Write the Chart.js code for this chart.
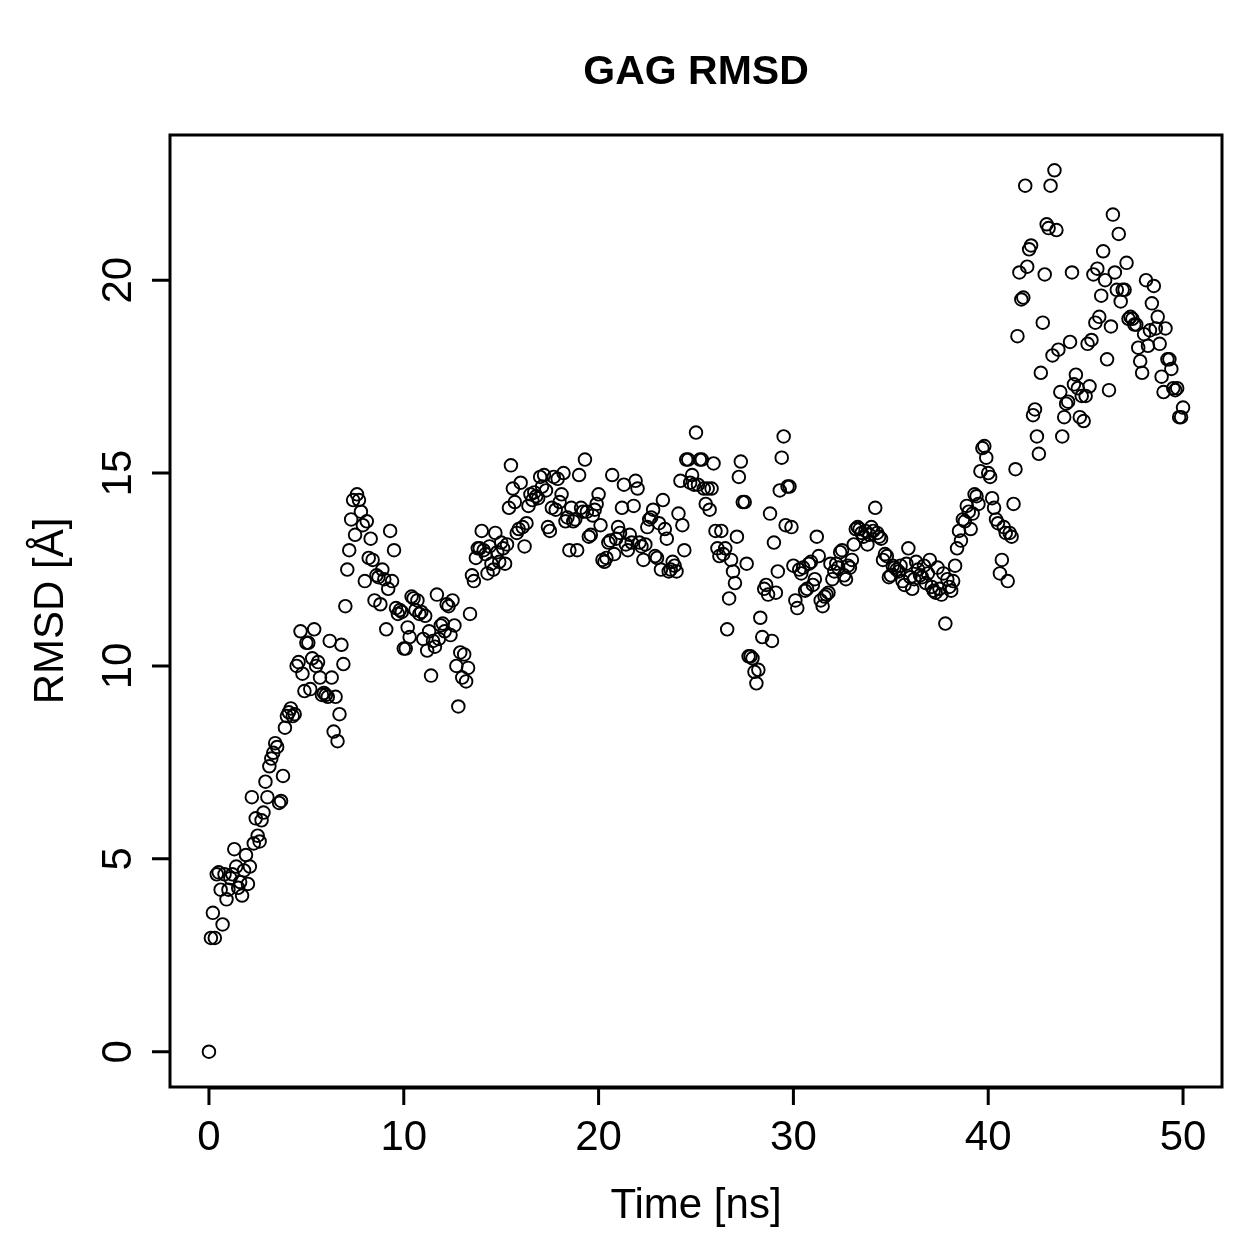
<!DOCTYPE html>
<html lang="en">
<head>
    <meta charset="UTF-8">
    <title>GAG RMSD</title>
    <script src="https://cdn.jsdelivr.net/npm/chart.js"></script>
    <style>
        body {
            margin: 0;
            background: #ffffff;
        }
        #chart {
            display: block;
        }
    </style>
</head>
<body>
    <canvas id="chart" width="1259" height="1259"></canvas>

    <script>
        const rmsd = [
            0.0, 2.95, 3.6, 2.95, 4.6, 4.65, 4.2, 3.3, 4.6, 3.95,          // 0-1 ns
            4.2, 4.5, 4.6, 5.25, 4.8, 4.25, 4.4, 4.05, 4.7, 5.1,           // 1-2
            4.35, 4.8, 6.6, 5.4, 6.05, 5.6, 5.45, 6.0, 6.2, 7.0,           // 2-3
            6.6, 7.4, 7.6, 7.75, 8.0, 7.9, 6.45, 6.5, 7.15, 8.4,           // 3-4
            8.7, 8.8, 8.9, 8.7, 8.75, 10.0, 10.1, 10.9, 9.8, 9.35,         // 4-5
            10.6, 10.6, 9.4, 10.2, 10.95, 10.0, 10.1, 9.7, 9.25, 9.3,      // 5-6
            9.25, 9.2, 10.65, 9.7, 8.3, 9.2, 8.05, 8.75, 10.55, 10.05,     // 6-7
            11.55, 12.5, 13.0, 13.8, 14.3, 13.4, 14.45, 14.3, 14.0, 13.65, // 7-8
            12.2, 13.75, 12.8, 13.3, 12.75, 11.7, 12.35, 12.3, 11.6, 12.5, // 8-9
            12.25, 10.95, 12.0, 13.5, 12.2, 13.0, 11.5, 11.35, 11.45, 11.4, // 9-10
            10.45, 10.45, 11.0, 10.75, 11.8, 11.75, 11.45, 11.7, 11.35, 11.4, // 10-11
            10.7, 11.3, 10.4, 10.9, 9.75, 10.65, 10.5, 11.85, 10.7, 11.05, // 11-12
            11.1, 10.9, 11.6, 11.55, 10.8, 11.7, 11.05, 10.0, 8.95, 10.35, // 12-13
            9.7, 10.3, 9.6, 9.95, 11.35, 12.35, 12.2, 12.8, 13.05, 13.05,  // 13-14
            13.5, 13.0, 12.9, 12.4, 13.1, 12.65, 12.5, 13.45, 12.95, 12.7, // 14-15
            13.2, 13.05, 12.65, 13.15, 14.1, 15.2, 14.6, 14.25, 13.45, 13.55, // 15-16
            14.75, 13.6, 13.1, 13.7, 14.15, 14.45, 14.3, 14.5, 14.4, 14.35, // 16-17
            14.9, 14.65, 14.95, 14.55, 13.6, 13.5, 14.1, 14.9, 14.05, 14.85, // 17-18
            14.25, 14.45, 15.0, 13.75, 13.85, 13.0, 14.1, 13.75, 13.8, 13.0, // 18-19
            14.95, 14.1, 14.0, 15.35, 14.0, 13.35, 13.4, 13.9, 14.05, 14.2, // 19-20
            14.45, 13.65, 12.75, 12.7, 12.8, 13.2, 13.25, 14.95, 12.9, 13.3, // 20-21
            13.6, 13.45, 14.1, 14.7, 13.15, 13.0, 13.4, 13.2, 14.15, 14.8, // 21-22
            14.6, 13.2, 13.1, 12.75, 13.15, 13.6, 13.8, 13.85, 14.05, 12.85, // 22-23
            12.8, 13.7, 12.5, 14.3, 13.55, 13.3, 12.45, 12.5, 12.7, 12.6,  // 23-24
            12.45, 13.95, 14.8, 13.65, 13.0, 15.35, 15.35, 14.75, 14.95, 14.7, // 24-25
            16.05, 14.7, 15.35, 15.35, 14.6, 14.2, 14.6, 14.05, 14.6, 15.25, // 25-26
            13.5, 13.05, 12.85, 13.5, 12.9, 13.05, 10.95, 11.75, 12.75, 12.45, // 26-27
            12.15, 13.35, 14.9, 15.3, 14.25, 14.25, 12.65, 10.25, 10.25, 10.2, // 27-28
            9.85, 9.55, 9.9, 11.25, 10.75, 12.0, 12.1, 11.85, 13.95, 10.65, // 28-29
            13.2, 11.9, 12.45, 14.55, 15.4, 15.95, 13.65, 14.65, 14.65, 13.6, // 29-30
            12.6, 11.7, 11.5, 12.5, 12.4, 12.55, 11.95, 12.0, 12.65, 12.7, // 30-31
            12.1, 12.25, 13.35, 12.85, 11.7, 11.55, 11.8, 11.85, 11.9, 12.65, // 31-32
            12.25, 12.45, 12.65, 12.55, 12.95, 13.0, 12.35, 12.25, 12.6, 12.55, // 32-33
            12.75, 13.15, 13.55, 13.6, 13.55, 13.45, 13.35, 13.5, 13.15, 13.4, // 33-34
            13.6, 13.5, 14.1, 13.45, 13.35, 13.3, 12.75, 12.9, 12.85, 12.3, // 34-35
            12.35, 12.6, 12.55, 12.5, 12.45, 12.6, 12.2, 12.1, 12.65, 13.05, // 35-36
            12.3, 12.0, 12.25, 12.7, 12.5, 12.35, 12.3, 12.6, 12.15, 12.4, // 36-37
            12.75, 12.05, 11.95, 11.9, 12.55, 12.0, 11.85, 12.4, 11.1, 12.25, // 37-38
            12.05, 11.95, 12.2, 12.6, 13.05, 13.5, 13.25, 13.8, 13.75, 14.15, // 38-39
            14.0, 13.55, 13.95, 14.45, 14.4, 14.2, 15.05, 15.65, 15.7, 15.4, // 39-40
            15.0, 14.9, 14.35, 14.1, 13.8, 13.7, 12.4, 12.75, 13.6, 13.45, // 40-41
            12.2, 13.45, 13.35, 14.2, 15.1, 18.55, 20.2, 19.5, 19.55, 22.45, // 41-42
            20.35, 20.8, 20.9, 16.5, 16.65, 15.95, 15.5, 17.6, 18.9, 20.15, // 42-43
            21.45, 21.35, 22.45, 18.05, 22.85, 21.3, 18.2, 17.1, 15.95, 16.45, // 43-44
            16.8, 16.85, 18.4, 20.2, 17.3, 17.55, 17.2, 16.45, 17.0, 16.35, // 44-45
            17.0, 18.35, 17.25, 18.45, 20.15, 18.9, 20.3, 19.05, 19.6, 20.75, // 45-46
            20.0, 17.95, 17.15, 18.8, 21.7, 20.2, 19.75, 21.2, 19.45, 19.75, // 46-47
            19.75, 20.45, 19.0, 19.05, 19.0, 18.85, 18.85, 18.25, 17.9, 17.6, // 47-48
            18.6, 20.0, 18.3, 18.7, 19.4, 19.85, 18.75, 19.05, 18.35, 17.5, // 48-49
            17.1, 18.75, 17.95, 17.95, 17.7, 17.2, 17.15, 17.2, 16.45, 16.45, // 49-50
            16.7
        ];
        const timeStep = 0.1; // ns between frames
        const xTicks = [0, 10, 20, 30, 40, 50];
        const yTicks = [0, 5, 10, 15, 20];

        const points = rmsd.map((v, i) => ({ x: +(i * timeStep).toFixed(1), y: v }));

        // R-style axis ranges: data range padded by 4% each side
        const yMax = Math.max(...rmsd), yMin = Math.min(...rmsd);
        const yPad = (yMax - yMin) * 0.04;

        const FONT = '"Liberation Sans", Arial, Helvetica, sans-serif';

        // draws the box, ticks, labels and titles the way base R does
        const rAxes = {
            id: 'rAxes',
            afterDraw(chart) {
                const { ctx, chartArea: a, scales: { x, y } } = chart;
                ctx.save();
                ctx.strokeStyle = '#000';
                ctx.fillStyle = '#000';
                ctx.lineWidth = 3;
                ctx.strokeRect(a.left, a.top, a.right - a.left, a.bottom - a.top);

                ctx.font = '42px ' + FONT;
                // x axis
                const x0 = x.getPixelForValue(xTicks[0]);
                const x1 = x.getPixelForValue(xTicks[xTicks.length - 1]);
                ctx.beginPath();
                ctx.moveTo(x0, a.bottom + 1);
                ctx.lineTo(x1, a.bottom + 1);
                xTicks.forEach(t => {
                    const px = x.getPixelForValue(t);
                    ctx.moveTo(px, a.bottom);
                    ctx.lineTo(px, a.bottom + 18);
                });
                ctx.stroke();
                ctx.textAlign = 'center';
                ctx.textBaseline = 'alphabetic';
                xTicks.forEach(t => ctx.fillText(String(t), x.getPixelForValue(t), 1150));
                ctx.fillText('Time [ns]', (a.left + a.right) / 2, 1218);

                // y axis
                ctx.beginPath();
                yTicks.forEach(t => {
                    const py = y.getPixelForValue(t);
                    ctx.moveTo(a.left, py);
                    ctx.lineTo(a.left - 18, py);
                });
                ctx.stroke();
                yTicks.forEach(t => {
                    ctx.save();
                    ctx.translate(131, y.getPixelForValue(t));
                    ctx.rotate(-Math.PI / 2);
                    ctx.fillText(String(t), 0, 0);
                    ctx.restore();
                });
                ctx.save();
                ctx.translate(63, (a.top + a.bottom) / 2);
                ctx.rotate(-Math.PI / 2);
                ctx.fillText('RMSD [Å]', 0, 0);
                ctx.restore();

                // title
                ctx.font = 'bold 41px ' + FONT;
                ctx.fillText('GAG RMSD', (a.left + a.right) / 2, 84);
                ctx.restore();
            }
        };

        new Chart(document.getElementById('chart'), {
            type: 'scatter',
            data: {
                datasets: [{
                    label: 'RMSD',
                    data: points,
                    pointStyle: 'circle',
                    pointRadius: 6.3,
                    pointBorderWidth: 1.9,
                    pointBorderColor: '#000',
                    pointBackgroundColor: 'rgba(0,0,0,0)',
                    showLine: false,
                }],
            },
            options: {
                responsive: false,
                animation: false,
                layout: { padding: { left: 170, top: 135, right: 37, bottom: 172 } },
                plugins: {
                    legend: { display: false },
                    tooltip: { enabled: false },
                },
                scales: {
                    x: { type: 'linear', display: false, min: -2, max: 52 },
                    y: { type: 'linear', display: false, min: yMin - yPad, max: yMax + yPad },
                },
            },
            plugins: [rAxes],
        });
    </script>
</body>
</html>
